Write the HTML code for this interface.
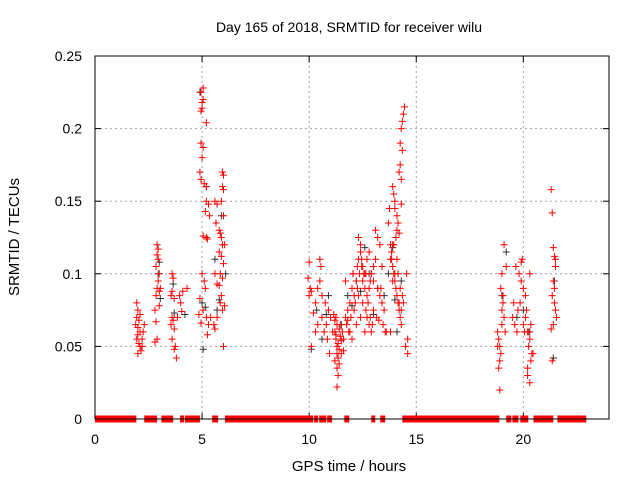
<!DOCTYPE html>
<html><head><meta charset="utf-8"><style>
body{margin:0;background:#fff}
svg{display:block;font-family:"Liberation Sans",sans-serif}
</style></head><body>
<svg id="chart" width="640" height="480" viewBox="0 0 640 480">
<rect width="640" height="480" fill="#fff"/>
<g id="grid"></g>
<g id="ticks"></g>
<g id="marks"></g>
<rect x="95" y="56" width="514" height="363" fill="none" stroke="#000" stroke-width="1"/>
<text x="349" y="32" font-size="14" text-anchor="middle">Day 165 of 2018, SRMTID for receiver wilu</text>
<text x="349" y="471" font-size="15" text-anchor="middle">GPS time / hours</text>
<text transform="translate(19,237) rotate(-90)" font-size="15" text-anchor="middle">SRMTID / TECUs</text>
</svg>
<script>
const xTicks=[0,5,10,15,20];
const yTicks=[0,0.05,0.1,0.15,0.2,0.25];
const yTickLabels=["0","0.05","0.1","0.15","0.2","0.25"];
const zeroStart=[0,2.3,3.1,3.97,4.2,5.47,6.07,10.23,10.47,10.84,11.64,12.9,13.32,14.35,19.2,19.49,19.86,20.47,21.59];
const zeroEnd=[1.93,2.9,3.65,4.16,4.9,5.75,10.19,10.42,10.8,11.07,11.87,13.08,13.55,18.88,19.44,19.77,20.23,21.4,22.94];
const redX=[1.95,2.0,1.95,2.05,2.0,2.1,1.95,2.05,2.1,2.0,2.15,2.2,2.25,2.3,1.9,2.1,2.2,2.0,
2.9,2.95,2.9,2.95,2.85,3.0,2.95,2.9,3.0,2.85,3.0,2.8,2.85,2.9,2.8,3.05,
3.6,3.65,3.6,3.55,3.7,3.6,3.65,3.55,3.7,3.6,3.75,3.8,3.7,3.95,4.0,4.1,3.85,4.3,4.05,
5.05,4.95,5.0,5.05,4.95,5.0,5.2,4.95,5.05,5.0,4.9,4.95,5.1,5.2,5.2,5.3,5.15,5.35,5.05,5.2,5.25,5.0,5.1,5.15,4.9,5.05,5.2,5.3,4.85,4.95,5.25,5.4,
5.95,6.0,5.95,6.0,5.9,6.0,5.7,5.6,5.65,5.8,5.85,5.9,5.95,6.05,5.8,5.9,6.0,5.85,5.95,5.6,5.7,5.8,5.9,6.05,5.95,5.7,5.55,5.6,6.0,5.85,
10.0,9.95,10.05,10.0,10.1,10.2,10.3,10.4,10.5,10.55,10.5,10.6,10.4,10.3,10.1,10.6,10.7,10.8,10.9,11.0,10.75,10.85,10.95,
11.2,11.25,11.3,11.35,11.4,11.3,11.2,11.25,11.4,11.45,11.3,11.35,11.5,11.55,11.6,11.3,11.2,11.15,11.4,11.3,11.35,11.45,11.25,11.1,11.5,
11.7,11.8,11.9,11.75,11.85,12.0,12.1,11.95,12.05,12.2,12.3,12.15,12.25,12.4,12.35,12.5,12.45,12.6,12.55,12.7,12.65,12.8,12.75,12.9,12.85,
11.7,11.9,12.0,12.1,12.2,12.3,12.4,12.5,12.6,12.7,12.8,12.9,13.0,12.05,12.25,12.45,12.65,12.85,11.6,11.8,
12.3,12.4,12.5,12.6,12.7,12.8,12.9,13.0,13.1,13.2,13.3,13.4,13.5,13.1,13.2,13.3,13.4,13.0,12.95,13.15,13.25,13.35,13.45,13.55,13.6,
13.7,13.75,13.8,13.85,13.9,13.95,14.0,14.05,14.1,14.15,14.2,14.25,14.3,13.8,13.9,14.0,14.1,14.2,14.3,14.35,14.4,13.85,13.95,14.05,14.15,14.25,
13.9,13.95,14.0,14.1,14.15,14.2,14.25,14.3,14.35,14.25,14.3,14.35,14.4,14.45,14.3,14.2,14.1,14.0,13.9,13.8,14.5,14.6,14.6,14.55,
18.8,18.85,18.9,18.95,18.9,19.0,19.1,19.05,18.85,19.0,18.95,19.1,19.2,18.9,19.0,19.05,19.15,18.8,
19.5,19.6,19.7,19.75,19.8,19.9,19.95,20.0,20.1,20.2,20.25,20.3,20.35,20.4,20.2,20.3,20.1,19.85,19.65,20.0,20.15,20.25,20.35,19.55,19.9,20.05,20.3,20.45,20.2,
21.3,21.35,21.4,21.45,21.5,21.4,21.35,21.45,21.5,21.55,21.4,21.3,21.45,21.35,21.5];
const redY=[0.08,0.075,0.07,0.068,0.063,0.06,0.055,0.052,0.05,0.045,0.047,0.055,0.06,0.065,0.065,0.072,0.05,0.058,
0.12,0.117,0.113,0.11,0.105,0.1,0.095,0.09,0.088,0.085,0.078,0.075,0.067,0.055,0.053,0.09,
0.1,0.097,0.088,0.085,0.083,0.07,0.068,0.065,0.062,0.055,0.05,0.042,0.048,0.085,0.08,0.088,0.07,0.09,0.074,
0.228,0.225,0.218,0.22,0.212,0.214,0.204,0.19,0.187,0.18,0.17,0.165,0.162,0.16,0.15,0.148,0.143,0.14,0.126,0.125,0.124,0.1,0.095,0.09,0.083,0.075,0.07,0.065,0.072,0.066,0.058,0.07,
0.17,0.168,0.16,0.158,0.15,0.14,0.148,0.15,0.135,0.13,0.128,0.125,0.12,0.12,0.115,0.112,0.107,0.1,0.097,0.1,0.093,0.092,0.085,0.078,0.075,0.07,0.065,0.062,0.05,0.08,
0.108,0.097,0.09,0.085,0.088,0.073,0.08,0.09,0.11,0.105,0.095,0.085,0.065,0.06,0.05,0.07,0.06,0.065,0.075,0.07,0.08,0.055,0.045,
0.06,0.055,0.05,0.052,0.048,0.045,0.04,0.058,0.062,0.057,0.035,0.042,0.054,0.06,0.047,0.065,0.068,0.072,0.038,0.022,0.03,0.065,0.07,0.06,0.045,
0.07,0.075,0.08,0.065,0.06,0.09,0.085,0.07,0.1,0.095,0.11,0.08,0.105,0.12,0.1,0.095,0.11,0.09,0.1,0.085,0.075,0.09,0.08,0.1,0.07,
0.095,0.06,0.055,0.075,0.065,0.085,0.07,0.08,0.06,0.07,0.065,0.06,0.075,0.1,0.09,0.105,0.1,0.095,0.055,0.068,
0.125,0.115,0.105,0.1,0.11,0.115,0.1,0.105,0.11,0.09,0.085,0.08,0.075,0.13,0.125,0.12,0.105,0.095,0.065,0.07,0.068,0.09,0.065,0.06,0.06,
0.135,0.145,0.12,0.11,0.105,0.1,0.095,0.09,0.085,0.08,0.075,0.07,0.065,0.06,0.095,0.1,0.11,0.08,0.075,0.085,0.08,0.115,0.12,0.125,0.1,0.09,
0.16,0.155,0.15,0.14,0.135,0.17,0.175,0.165,0.185,0.19,0.2,0.205,0.21,0.215,0.148,0.128,0.13,0.145,0.12,0.11,0.05,0.055,0.045,0.1,
0.06,0.055,0.05,0.045,0.04,0.065,0.07,0.08,0.035,0.1,0.09,0.12,0.105,0.02,0.075,0.085,0.06,0.05,
0.07,0.065,0.06,0.075,0.1,0.108,0.11,0.09,0.085,0.06,0.05,0.055,0.04,0.045,0.03,0.025,0.07,0.08,0.105,0.065,0.075,0.06,0.065,0.08,0.095,0.06,0.1,0.045,0.035,
0.158,0.142,0.118,0.112,0.105,0.095,0.085,0.08,0.075,0.07,0.065,0.062,0.09,0.04,0.11];
const blackX=[3.0,2.95,3.05,3.65,3.7,4.2,4.9,5.2,5.0,5.05,5.15,5.9,5.6,6.1,5.7,5.8,10.1,10.35,10.6,10.8,10.9,11.5,11.8,12.0,12.2,12.4,12.6,12.8,13.0,13.2,13.5,13.7,13.9,14.1,14.3,14.0,19.0,19.2,19.7,20.0,20.3,21.4,21.45];
const blackY=[0.108,0.1,0.083,0.093,0.073,0.072,0.225,0.16,0.08,0.048,0.077,0.14,0.11,0.1,0.075,0.082,0.048,0.075,0.055,0.072,0.085,0.065,0.085,0.078,0.095,0.088,0.118,0.1,0.072,0.09,0.085,0.1,0.118,0.06,0.095,0.082,0.085,0.115,0.07,0.075,0.06,0.042,0.095];

const X0=95,X1=609,Y0=419,Y1=56,XMAX=24,YMAX=0.25;
const sx=v=>X0+v/XMAX*(X1-X0);
const sy=v=>Y0-v/YMAX*(Y0-Y1);
const NS='http://www.w3.org/2000/svg';
function mk(tag,attrs,parent){const e=document.createElementNS(NS,tag);for(const k in attrs)e.setAttribute(k,attrs[k]);parent.appendChild(e);return e;}
const grid=document.getElementById('grid'),ticks=document.getElementById('ticks'),marks=document.getElementById('marks');
xTicks.forEach((t,i)=>{const x=sx(t);
 if(t>0){const g=mk('line',{x1:x,x2:x,y1:Y1,y2:Y0,stroke:'#a0a0a0','stroke-dasharray':'2,3'},grid);
 
 }
 mk('line',{x1:x,x2:x,y1:Y0,y2:Y0-6,stroke:'#000'},ticks);
 mk('line',{x1:x,x2:x,y1:Y1,y2:Y1+6,stroke:'#000'},ticks);
 const l=mk('text',{x:x,y:444,'font-size':14,'text-anchor':'middle'},ticks);l.textContent=String(t);
 
 
});
yTicks.forEach((t,i)=>{const y=sy(t);
 if(t>0&&t<YMAX){const g=mk('line',{x1:X0,x2:X1,y1:y,y2:y,stroke:'#a0a0a0','stroke-dasharray':'2,3'},grid);
 
 }
 mk('line',{x1:X0,x2:X0+6,y1:y,y2:y,stroke:'#000'},ticks);
 mk('line',{x1:X1,x2:X1-6,y1:y,y2:y,stroke:'#000'},ticks);
 const l=mk('text',{x:82,y:y+5,'font-size':14,'text-anchor':'end'},ticks);l.textContent=yTickLabels[i];
 
 
});
function plus(x,y,col,name){const p=mk('path',{d:`M${x-3.5},${y}h7M${x},${y-3.5}v7`,stroke:col,'stroke-width':1,fill:'none'},marks);
 
 }
zeroStart.forEach((s,i)=>{const r=mk('rect',{x:sx(s),y:Y0-3.5,width:Math.max(4,sx(zeroEnd[i])-sx(s)),height:7,fill:'#ff0000'},marks);
 
 });
blackX.forEach((v,i)=>plus(sx(v),sy(blackY[i]),'#333','black-point'));
redX.forEach((v,i)=>plus(sx(v),sy(redY[i]),'#ff0000','red-point'));
</script>
</body></html>
